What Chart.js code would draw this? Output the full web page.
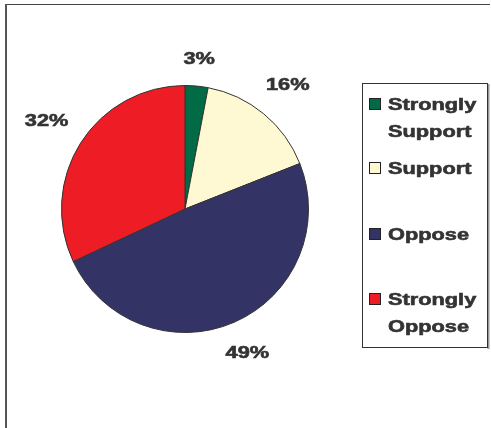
<!DOCTYPE html>
<html>
<head>
<meta charset="utf-8">
<script src="https://cdn.jsdelivr.net/npm/chart.js@4/dist/chart.umd.min.js"></script>
<style>
  html, body { margin: 0; padding: 0; background: #fff; }
  canvas { display: block; }
</style>
</head>
<body>
<canvas id="pieChart" width="491" height="428"></canvas>
<script>
const categories = ['Strongly Support', 'Support', 'Oppose', 'Strongly Oppose'];
const legendLines = [['Strongly', 'Support'], ['Support'], ['Oppose'], ['Strongly', 'Oppose']];
const shares = [3, 16, 49, 32];
const sliceColors = ['#006B45', '#FFF9D3', '#333366', '#EE1C25'];

const textColor = '#333333';
const labelFont = 'bold 17px "Liberation Sans", Arial, sans-serif';
const stretch = 1.28;

// excel-ish wide bold text
function wideText(ctx, str, x, y, align) {
    ctx.save();
    ctx.translate(x, y);
    ctx.scale(stretch, 1);
    ctx.textAlign = align;
    ctx.lineWidth = 0.6;
    ctx.strokeStyle = textColor;
    ctx.strokeText(str, 0, 0);
    ctx.fillText(str, 0, 0);
    ctx.restore();
}

const framePlugin = {
    id: 'frame',
    beforeDraw(chart) {
        const ctx = chart.ctx;
        ctx.save();
        ctx.strokeStyle = '#444';
        ctx.lineWidth = 1;
        ctx.beginPath();
        ctx.moveTo(5, 4.5); ctx.lineTo(490, 4.5);
        ctx.stroke();
        ctx.strokeStyle = '#555';
        ctx.lineWidth = 2;
        ctx.beginPath();
        ctx.moveTo(6, 4); ctx.lineTo(6, 428);
        ctx.stroke();
        ctx.restore();
    }
};

const labelPlugin = {
    id: 'sliceLabels',
    afterDatasetsDraw(chart) {
        const ctx = chart.ctx;
        const meta = chart.getDatasetMeta(0);
        ctx.save();
        ctx.font = labelFont;
        ctx.fillStyle = textColor;
        ctx.textBaseline = 'middle';
        meta.data.forEach((arc, i) => {
            const p = arc.getProps(['x', 'y', 'startAngle', 'endAngle', 'outerRadius'], true);
            const mid = (p.startAngle + p.endAngle) / 2;
            const str = shares[i] + '%';
            const w = ctx.measureText(str).width * stretch;
            const h = 15;
            const c = Math.cos(mid), s = Math.sin(mid);
            const ext = Math.abs(c) * w / 2 + Math.abs(s) * h / 2;
            const d = p.outerRadius + 18 + ext;
            wideText(ctx, str, p.x + c * d, p.y + s * d, 'center');
        });
        ctx.restore();
    }
};

const legendPlugin = {
    id: 'boxLegend',
    afterDraw(chart) {
        const ctx = chart.ctx;
        const colors = chart.data.datasets[0].backgroundColor;
        ctx.save();
        ctx.strokeStyle = '#999';
        ctx.lineWidth = 2;
        ctx.beginPath();
        ctx.moveTo(488.5, 84); ctx.lineTo(488.5, 349);
        ctx.stroke();
        ctx.strokeStyle = '#333';
        ctx.lineWidth = 1;
        ctx.strokeRect(362.5, 83.5, 125, 264);
        ctx.font = labelFont;
        ctx.textBaseline = 'alphabetic';
        const baselines = [110, 174, 240, 305];
        legendLines.forEach((lines, i) => {
            const y = baselines[i];
            ctx.fillStyle = colors[i];
            ctx.fillRect(370, y - 11, 10, 10);
            ctx.strokeStyle = '#222';
            ctx.lineWidth = 1;
            ctx.strokeRect(369.5, y - 11.5, 11, 11);
            ctx.fillStyle = textColor;
            lines.forEach((ln, k) => wideText(ctx, ln, 388, y + k * 27, 'left'));
        });
        ctx.restore();
    }
};

new Chart(document.getElementById('pieChart'), {
    type: 'pie',
    data: {
        labels: categories,
        datasets: [{
            data: shares,
            backgroundColor: sliceColors,
            borderColor: '#333333',
            borderWidth: 1,
            hoverBorderWidth: 1
        }]
    },
    options: {
        responsive: false,
        animation: false,
        layout: { padding: { left: 61, top: 85, right: 182, bottom: 95 } },
        plugins: {
            legend: { display: false },
            tooltip: { enabled: false }
        }
    },
    plugins: [framePlugin, labelPlugin, legendPlugin]
});
</script>
</body>
</html>
